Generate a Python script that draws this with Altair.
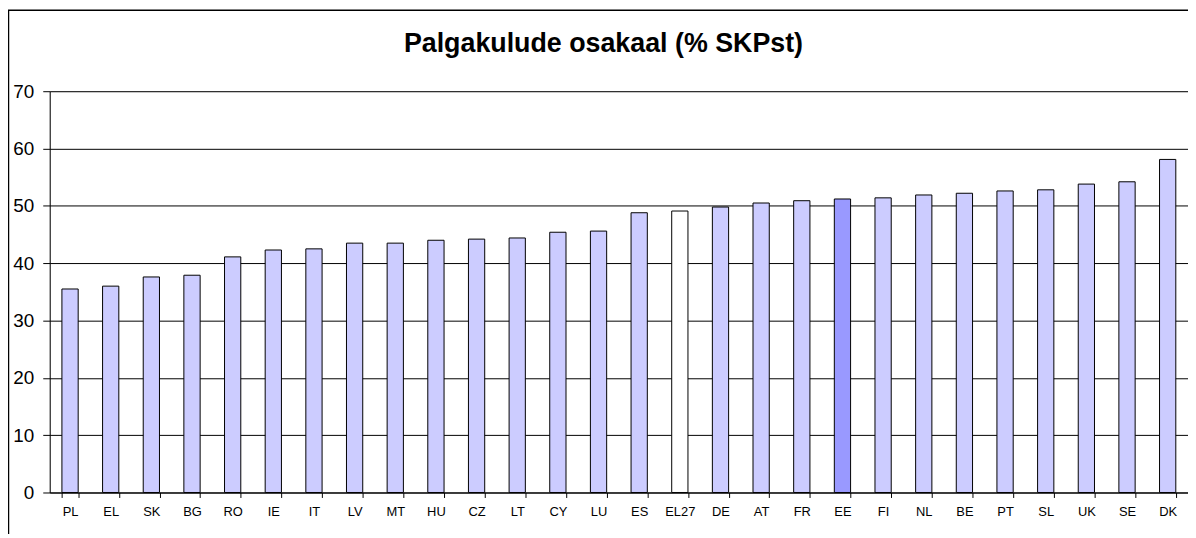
import altair as alt
import pandas as pd

countries = ["PL", "EL", "SK", "BG", "RO", "IE", "IT", "LV", "MT", "HU", "CZ", "LT",
             "CY", "LU", "ES", "EL27", "DE", "AT", "FR", "EE", "FI", "NL", "BE", "PT",
             "SL", "UK", "SE", "DK"]
values = [35.5, 36.0, 37.6, 37.9, 41.1, 42.3, 42.5, 43.5, 43.5, 44.0, 44.2, 44.4,
          45.4, 45.6, 48.8, 49.1, 49.8, 50.5, 50.9, 51.2, 51.4, 51.9, 52.2, 52.6,
          52.8, 53.8, 54.2, 58.1]
highlight = {"EL27": "EL27", "EE": "EE"}
title_text = "Palgakulude osakaal (% SKPst)"

df = pd.DataFrame({
    "riik": countries,
    "vaartus": values,
    "grupp": [highlight.get(c, "muu") for c in countries],
})

FONT = "Liberation Sans"

bars = alt.Chart(df).mark_bar(stroke="#000000", strokeWidth=1).encode(
    x=alt.X("riik:N", sort=countries,
            scale=alt.Scale(paddingInner=0.6, paddingOuter=0.3),
            axis=alt.Axis(title=None, labelAngle=0, tickBand="extent", tickSize=5,
                          labelFontSize=13, labelFont=FONT, labelColor="#000000",
                          labelPadding=8, domainColor="#000000", tickColor="#000000",
                          grid=False)),
    y=alt.Y("vaartus:Q",
            scale=alt.Scale(domain=[0, 70], nice=False),
            axis=alt.Axis(title=None, values=list(range(0, 80, 10)), tickSize=7,
                          labelFontSize=19, labelFont=FONT, labelColor="#000000",
                          labelPadding=9, domainColor="#000000", tickColor="#000000",
                          grid=True, gridColor="#000000", gridWidth=1)),
    color=alt.Color("grupp:N",
                    scale=alt.Scale(domain=["muu", "EL27", "EE"],
                                    range=["#CCCCFF", "#FFFFFF", "#9999FF"]),
                    legend=None),
)

frame_df = pd.DataFrame({"a": [0]})
left_frame = alt.Chart(frame_df).mark_rule(color="#000000", strokeWidth=1.5).encode(
    x=alt.value(-41.5), y=alt.value(-81.5), y2=alt.value(520))
top_frame = alt.Chart(frame_df).mark_rule(color="#000000", strokeWidth=1.5).encode(
    x=alt.value(-42), x2=alt.value(1200), y=alt.value(-81.5))
title = alt.Chart(frame_df).mark_text(
    text=title_text, font=FONT, fontSize=27, fontWeight="bold", color="#000000",
    align="center", baseline="alphabetic").encode(
    x=alt.value(557.5), y=alt.value(-39))

chart = alt.layer(bars, left_frame, top_frame, title).properties(
    width=1146,
    height=404,
    autosize=alt.AutoSizeParams(type="none"),
    padding={"left": 42, "top": 82, "right": 0, "bottom": 40},
).configure_view(stroke=None).configure(background="white")

chart.save("out.html", embed_options={"renderer": "svg", "actions": False})
